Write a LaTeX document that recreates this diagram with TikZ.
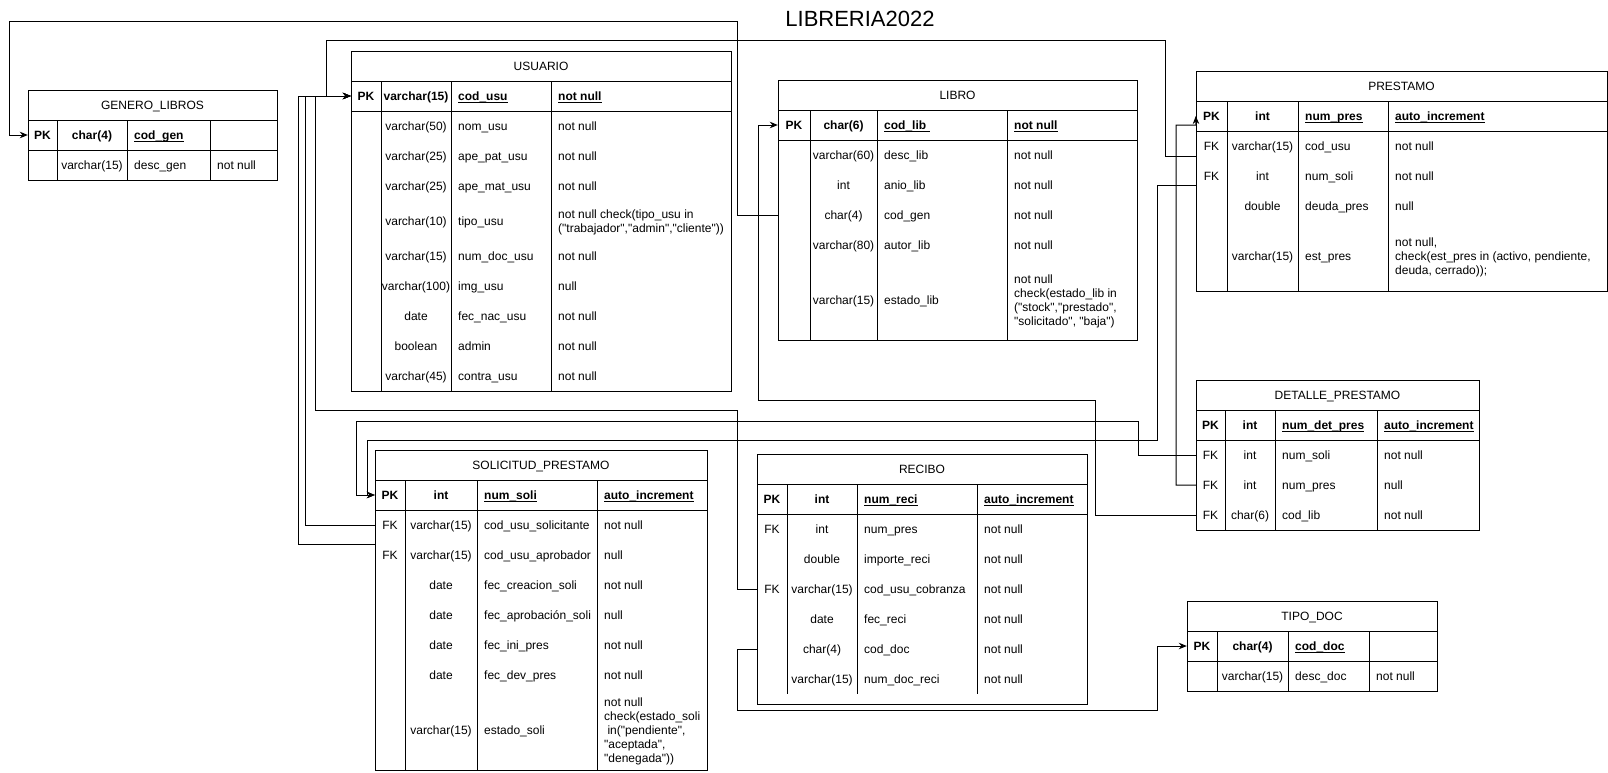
\documentclass[tikz,border=0pt]{standalone}
\usepackage{fontspec}
\setmainfont{Liberation Sans}[Ligatures=TeXOff]
\usetikzlibrary{arrows.meta}
\newsavebox\ulbox
\newcommand\undl[1]{\sbox\ulbox{#1}\rlap{\rule[-2pt]{\wd\ulbox}{0.8pt}}\usebox\ulbox}
\newcommand\setcols[4]{\def\colA{#1}\def\colB{#2}\def\colC{#3}\def\colD{#4}}
\tikzset{
  cell/.style={inner sep=0pt, font=\fontsize{12}{14}\selectfont, text height=8.6pt, text depth=0pt},
  keyc/.style={cell},
  ttl/.style={cell},
  mline/.style={inner sep=0pt, font=\fontsize{12}{14}\selectfont, align=left, anchor=west},
  tbox/.style={draw, line width=1pt, inner sep=0pt, anchor=north west},
  tline/.style={line width=1pt},
  conn/.style={line width=1pt, -{Stealth[length=8pt,width=6.5pt]}},
}
\newcommand\tframe[6]{%
  \node[tbox, minimum width={#4-\colA}, minimum height={#5-#3}] (#1) at (\colA,#3) {};
  \node[ttl] (#1T) at ({(\colA+#4)/2},#3+15) {#2};
  \draw[tline] (\colA,#3+30) -- (#4,#3+30) (\colA,#3+60) -- (#4,#3+60)
     (\colB,#3+30) -- (\colB,#6) (\colC,#3+30) -- (\colC,#6) (\colD,#3+30) -- (\colD,#6);
}
\newcommand\trow[6]{%
  \node[keyc, minimum width={\colB-\colA}] (#1) at ({(\colA+\colB)/2},#2) {#3};
  \node[cell] (#1T) at ({(\colB+\colC)/2},#2) {#4};
  \node[cell, anchor=west] (#1F) at (\colC+7,#2) {#5};
  \node[cell, anchor=west] (#1C) at (\colD+7,#2) {#6};
}
\newcommand\pkrow[5]{\trow{#1}{#2}{\textbf{PK}}{\textbf{#3}}{\textbf{\undl{#4}}}{\textbf{\undl{#5}}}}
\begin{document}
\begin{tikzpicture}[x=1pt,y=-1pt]
\fill[white] (0,0) rectangle (1608,772);
\useasboundingbox (0,0) rectangle (1608,772);

\node[inner sep=0pt, font=\fontsize{22}{26}\selectfont] (maintitle) at (860,19) {LIBRERIA2022};

% GENERO_LIBROS
\setcols{28}{57}{127}{210}
\tframe{genero}{GENERO\_LIBROS}{90}{277}{180}{180}
\pkrow{genPK}{135}{char(4)}{cod\_gen}{}
\trow{genDesc}{165}{}{varchar(15)}{desc\_gen}{not null}

% USUARIO
\setcols{351}{381}{451}{551}
\tframe{usuario}{USUARIO}{51}{731}{391}{391}
\pkrow{usuPK}{96}{varchar(15)}{cod\_usu}{not null}
\trow{usuNom}{126}{}{varchar(50)}{nom\_usu}{not null}
\trow{usuPat}{156}{}{varchar(25)}{ape\_pat\_usu}{not null}
\trow{usuMat}{186}{}{varchar(25)}{ape\_mat\_usu}{not null}
\trow{usuTipo}{221}{}{varchar(10)}{tipo\_usu}{}
\node[mline] (usuTipoM) at (558,222) {not null check(tipo\_usu in\\("trabajador","admin","cliente"))};
\trow{usuDoc}{256}{}{varchar(15)}{num\_doc\_usu}{not null}
\trow{usuImg}{286}{}{varchar(100)}{img\_usu}{null}
\trow{usuFec}{316}{}{date}{fec\_nac\_usu}{not null}
\trow{usuAdm}{346}{}{boolean}{admin}{not null}
\trow{usuCon}{376}{}{varchar(45)}{contra\_usu}{not null}

% LIBRO
\setcols{778}{810}{877}{1007}
\tframe{libro}{LIBRO}{80}{1137}{340}{340}
\pkrow{libPK}{125}{char(6)}{cod\_lib\ }{not null}
\trow{libDesc}{155}{}{varchar(60)}{desc\_lib}{not null}
\trow{libAnio}{185}{}{int}{anio\_lib}{not null}
\trow{libGen}{215}{}{char(4)}{cod\_gen}{not null}
\trow{libAut}{245}{}{varchar(80)}{autor\_lib}{not null}
\trow{libEst}{300}{}{varchar(15)}{estado\_lib}{}
\node[mline] (libEstM) at (1014,301) {not null\\check(estado\_lib in\\("stock","prestado",\\"solicitado", "baja")};

% PRESTAMO
\setcols{1196}{1227}{1298}{1388}
\tframe{prestamo}{PRESTAMO}{71}{1607}{291}{291}
\pkrow{presPK}{116}{int}{num\_pres}{auto\_increment}
\trow{presUsu}{146}{FK}{varchar(15)}{cod\_usu}{not null}
\trow{presSoli}{176}{FK}{int}{num\_soli}{not null}
\trow{presDeu}{206}{}{double}{deuda\_pres}{null}
\trow{presEst}{256}{}{varchar(15)}{est\_pres}{}
\node[mline] (presEstM) at (1395,257) {not null,\\check(est\_pres in (activo, pendiente,\\deuda, cerrado));};

% DETALLE_PRESTAMO
\setcols{1196}{1225}{1275}{1377}
\tframe{detalle}{DETALLE\_PRESTAMO}{380}{1479}{530}{530}
\pkrow{detPK}{425}{int}{num\_det\_pres}{auto\_increment}
\trow{detSoli}{455}{FK}{int}{num\_soli}{not null}
\trow{detPres}{485}{FK}{int}{num\_pres}{null}
\trow{detLib}{515}{FK}{char(6)}{cod\_lib}{not null}

% SOLICITUD_PRESTAMO
\setcols{375}{405}{477}{597}
\tframe{solicitud}{SOLICITUD\_PRESTAMO}{450}{707}{770}{770}
\pkrow{solPK}{495}{int}{num\_soli}{auto\_increment}
\trow{solSol}{525}{FK}{varchar(15)}{cod\_usu\_solicitante}{not null}
\trow{solApr}{555}{FK}{varchar(15)}{cod\_usu\_aprobador}{null}
\trow{solCre}{585}{}{date}{fec\_creacion\_soli}{not null}
\trow{solApro}{615}{}{date}{fec\_aprobación\_soli}{null}
\trow{solIni}{645}{}{date}{fec\_ini\_pres}{not null}
\trow{solDev}{675}{}{date}{fec\_dev\_pres}{not null}
\trow{solEst}{730}{}{varchar(15)}{estado\_soli}{}
\node[mline] (solEstM) at (604,731) {not null\\check(estado\_soli\\\ in("pendiente",\\"aceptada",\\"denegada"))};

% RECIBO
\setcols{757}{787}{857}{977}
\tframe{recibo}{RECIBO}{454}{1087}{704}{694}
\pkrow{recPK}{499}{int}{num\_reci}{auto\_increment}
\trow{recPres}{529}{FK}{int}{num\_pres}{not null}
\trow{recImp}{559}{}{double}{importe\_reci}{not null}
\trow{recUsu}{589}{FK}{varchar(15)}{cod\_usu\_cobranza}{not null}
\trow{recFec}{619}{}{date}{fec\_reci}{not null}
\trow{recDoc}{649}{}{char(4)}{cod\_doc}{not null}
\trow{recNum}{679}{}{varchar(15)}{num\_doc\_reci}{not null}

% TIPO_DOC
\setcols{1187}{1217}{1288}{1369}
\tframe{tipodoc}{TIPO\_DOC}{601}{1437}{691}{691}
\pkrow{tipPK}{646}{char(4)}{cod\_doc}{}
\trow{tipDesc}{676}{}{varchar(15)}{desc\_doc}{not null}

% connectors
\draw[conn] (libGen.west) -| (737,21) -| (9,135) -- (genPK.west);
\draw[conn] ([yshift=-10pt]presUsu.west) -| (1165,40) -| (326,96) -- (usuPK.west);
\draw[conn] (detPres.west) -| (1176,125) -- (1196,125) -- (presPK.west);
\draw[conn] ([yshift=-9pt]presSoli.west) -| (1157,440) -| (367,495) -- (solPK.west);
\draw[conn] (detSoli.west) -| (1138,421) -| (356,495) -- (solPK.west);
\draw[conn] (detLib.west) -| (1095,400) -| (758,125) -- (libPK.west);
\draw[conn] (recUsu.west) -| (737,410) -| (315,96) -- (usuPK.west);
\draw[conn] (solSol.west) -| (305,96) -- (usuPK.west);
\draw[conn] ([yshift=11pt]solApr.west) -| (298,96) -- (usuPK.west);
\draw[conn] (recDoc.west) -| (737,710) -| (1157,646) -- (tipPK.west);
\end{tikzpicture}
\end{document}
